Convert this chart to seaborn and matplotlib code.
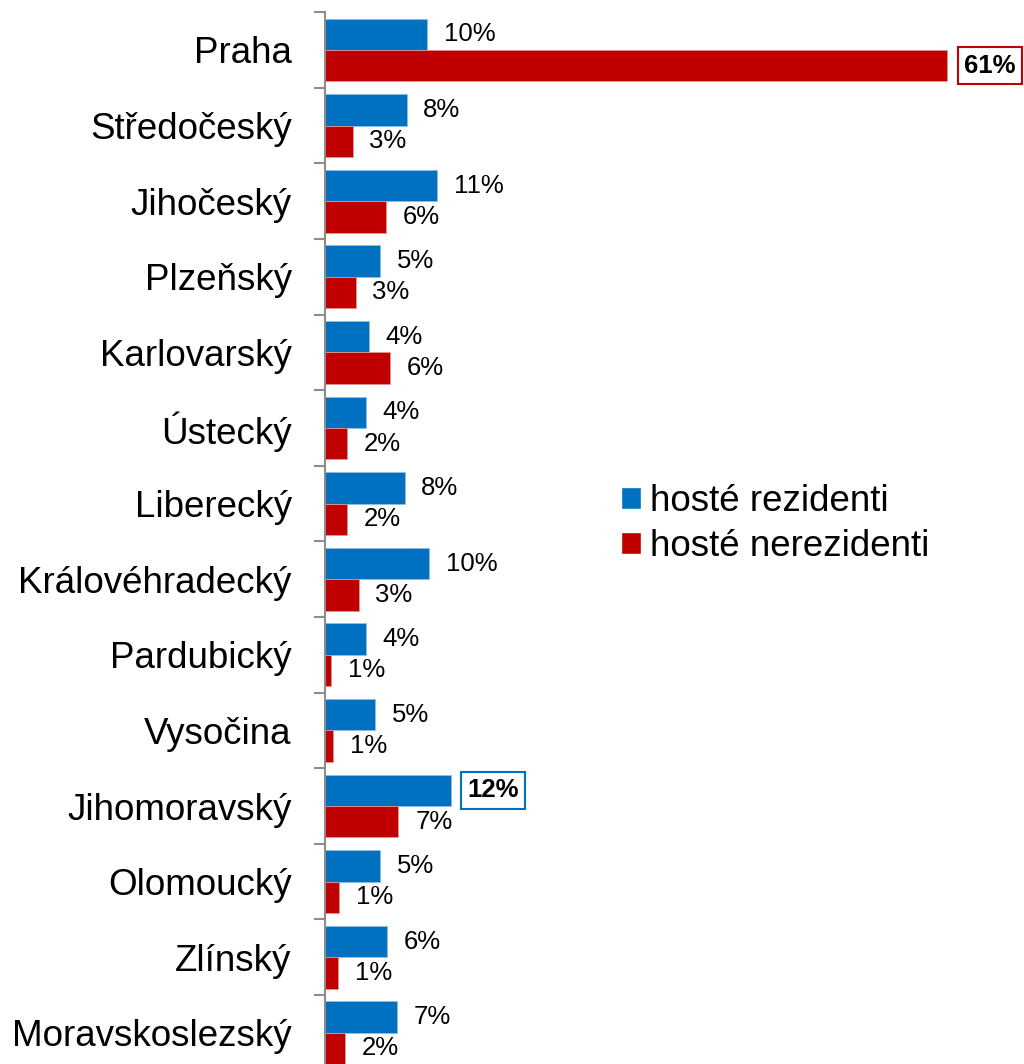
import numpy as np
import pandas as pd
import seaborn as sns
import matplotlib.pyplot as plt

kraje = ["Praha", "Středočeský", "Jihočeský", "Plzeňský", "Karlovarský", "Ústecký",
         "Liberecký", "Královéhradecký", "Pardubický", "Vysočina", "Jihomoravský",
         "Olomoucký", "Zlínský", "Moravskoslezský"]
rezidenti = [10.0, 8.0, 11.0, 5.4, 4.3, 4.0, 7.8, 10.2, 4.0, 4.9, 12.3, 5.4, 6.1, 7.1]
nerezidenti = [61.0, 2.7, 6.0, 3.0, 6.4, 2.2, 2.2, 3.3, 0.6, 0.8, 7.2, 1.4, 1.3, 2.0]
serie = ["hosté rezidenti", "hosté nerezidenti"]
barvy = ["#0070C0", "#C00000"]
okraje = ["#8DBDE6", "#E39494"]

df = pd.DataFrame({
    "kraj": kraje * 2,
    "podil": rezidenti + nerezidenti,
    "skupina": [serie[0]] * len(kraje) + [serie[1]] * len(kraje),
})

sns.set_theme(style="white")
plt.rcParams["font.family"] = ["Liberation Sans", "DejaVu Sans"]

fig = plt.figure(figsize=(10.24, 10.64), dpi=100)
ax = fig.add_axes([325 / 1024, 1 - 1070.6 / 1064, 1 - 325 / 1024, 1058.4 / 1064])

sns.barplot(data=df, y="kraj", x="podil", hue="skupina", palette=barvy,
            saturation=1, orient="h", width=0.83, errorbar=None, ax=ax, legend=True)

# tenky svetlejsi okraj sloupcu
for cont, okraj in zip(ax.containers, okraje):
    for bar in cont:
        bar.set_edgecolor(okraj)
        bar.set_linewidth(0.6)

ax.set_xlim(0, 68.5)
ax.set_ylim(13.5, -0.5)
ax.set_xlabel("")
ax.set_ylabel("")
ax.set_xticks([])

# popisky hodnot
for i, (cont, hodnoty) in enumerate(zip(ax.containers, [rezidenti, nerezidenti])):
    texty = ax.bar_label(cont, labels=[f"{v:.0f}%" for v in hodnoty],
                         padding=12, fontsize=18.5, color="black")
    zvyraznit = 10 if i == 0 else 0
    texty[zvyraznit].set_fontweight("bold")
    texty[zvyraznit].set_bbox(dict(boxstyle="square,pad=0.25", fc="white",
                                   ec=barvy[i], lw=1.5))

# osa y: carky mezi kategoriemi
ax.tick_params(axis="y", which="major", length=0, pad=24, labelsize=26.5,
               labelcolor="black")
ax.set_yticks(np.arange(-0.5, 14, 1), minor=True)
ax.tick_params(axis="y", which="minor", length=8, width=1.5, color="#8C8C8C",
               direction="out", left=True)
for s in ["top", "right", "bottom"]:
    ax.spines[s].set_visible(False)
ax.spines["left"].set_color("#8C8C8C")
ax.spines["left"].set_linewidth(1.5)

handles, labels = ax.get_legend_handles_labels()
ax.legend(handles, labels, loc="upper left",
          bbox_to_anchor=(621 / 1024, 1 - 484 / 1064), bbox_transform=fig.transFigure,
          frameon=False, fontsize=26.5, labelcolor="black", handlelength=0.55,
          handleheight=0.55, handletextpad=0.25, labelspacing=0.28,
          borderpad=0, borderaxespad=0)

plt.savefig("out.png", dpi=100)
